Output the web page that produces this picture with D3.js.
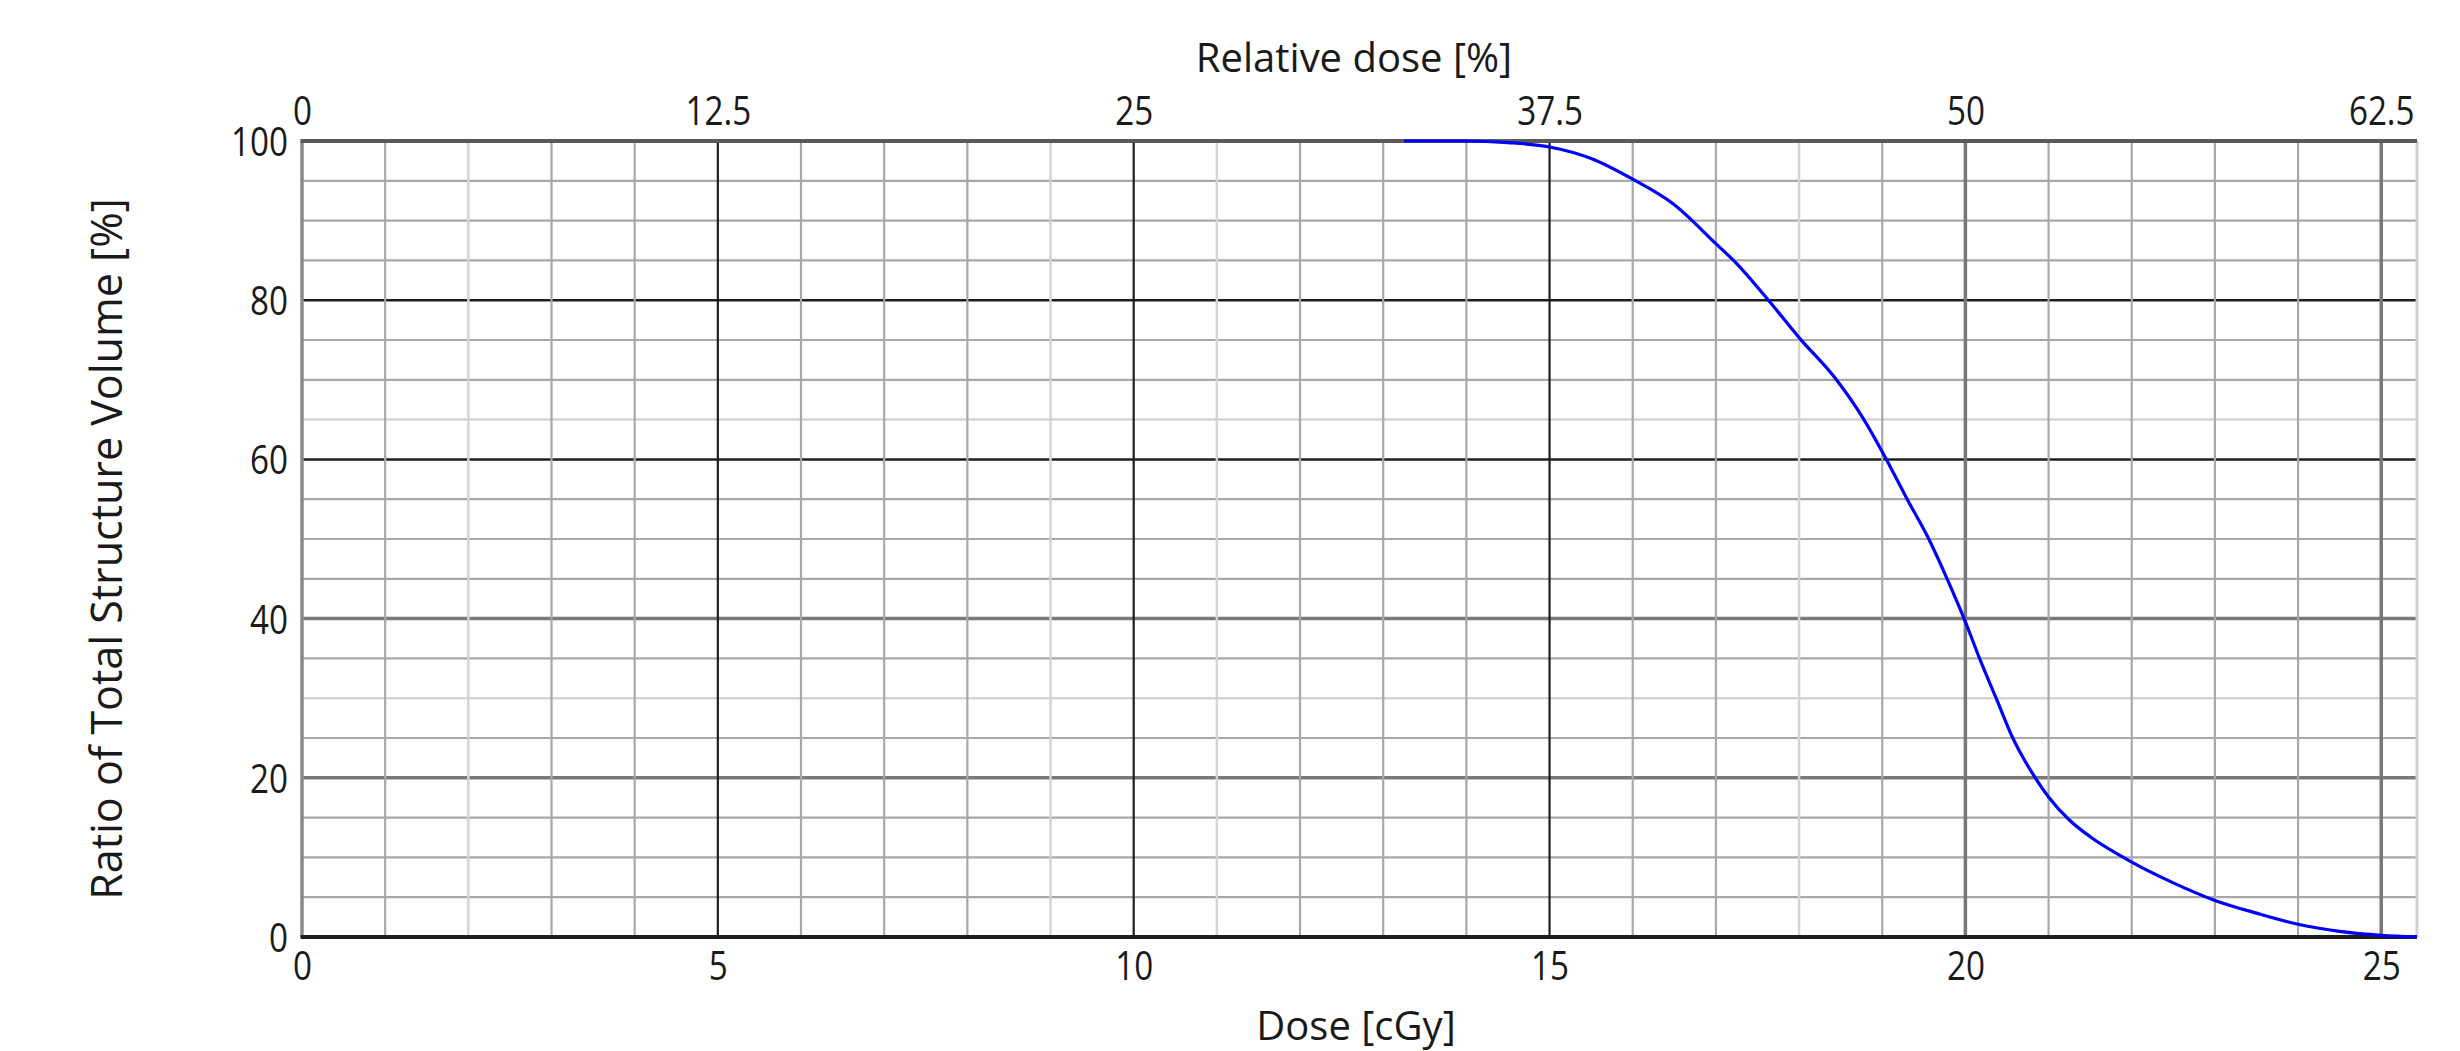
<!DOCTYPE html>
<html>
<head>
<meta charset="utf-8">
<script src="https://cdn.jsdelivr.net/npm/d3@7"></script>
<style>
  html, body { margin: 0; padding: 0; background: #fff; }
  svg text { font-family: "Open Sans", "Noto Sans", sans-serif; fill: #1a1a1a; }
</style>
</head>
<body>
<svg id="chart" width="2460" height="1051"></svg>
<script>
// ---- data ----
const doseValues = [13.25, 14.0, 14.5, 15.0, 15.5, 16.0, 16.5, 17.0, 17.25, 17.6, 18.0, 18.45, 18.78, 19.05, 19.3, 19.56, 19.78, 20.0, 20.17, 20.37, 20.57, 20.84, 21.0, 21.25, 21.5, 21.9, 22.0, 22.5, 23.0, 23.5, 24.0, 24.5, 25.0, 25.43];
const volumeValues = [100, 100, 99.8, 99.25, 97.8, 95.2, 92.0, 87.1, 84.6, 80.4, 75.3, 70.0, 65.0, 60.0, 55.0, 50.0, 45.0, 39.6, 35.0, 30.0, 25.0, 20.0, 17.6, 14.7, 12.6, 10.0, 9.4, 6.8, 4.6, 3.0, 1.6, 0.7, 0.2, 0.0];
const doseTicks = [0, 5, 10, 15, 20, 25];
const doseTickLabels = ["0", "5", "10", "15", "20", "25"];
const relTicks = [0, 12.5, 25, 37.5, 50, 62.5];
const relTickLabels = ["0", "12.5", "25", "37.5", "50", "62.5"];
const volTicks = [0, 20, 40, 60, 80, 100];
const volTickLabels = ["0", "20", "40", "60", "80", "100"];
const doseMax = 25.43;
const relPerDose = 2.5;

// ---- layout ----
const svg = d3.select("#chart");
const L = 302, R = 2417, T = 141, B = 937;
const x = d3.scaleLinear().domain([0, doseMax]).range([L, R]);
const xr = d3.scaleLinear().domain([0, doseMax * relPerDose]).range([L, R]);
const y = d3.scaleLinear().domain([0, 100]).range([B, T]);

const g = svg.append("g");

// grid styles (mimic the rendered look of the reference)
function vStyle(d) {
  if (d === 0) return ["#8a8a8a", 3.5];
  if (d === 20 || d === 25) return ["#777", 3.5];
  if (d % 5 === 0) return ["#1e1e1e", 2.2];
  if ([2, 9, 11, 18].includes(d)) return ["#d4d4d4", 2.5];
  return ["#a8a8a8", 2.2];
}
function hStyle(v) {
  if (v === 0) return ["#1e1e1e", 4];
  if (v === 100) return ["#5a5a5a", 4];
  if (v === 20 || v === 40) return ["#7a7a7a", 3.5];
  if (v % 20 === 0) return ["#1e1e1e", 2.5];
  if (v === 65 || v === 30) return ["#d4d4d4", 2.5];
  return ["#a8a8a8", 2.2];
}

const vLines = d3.range(0, Math.floor(doseMax) + 1);
const hLines = d3.range(5, 100, 5);

g.selectAll(".hgrid").data(hLines).enter().append("line")
  .attr("x1", L).attr("x2", R)
  .attr("y1", d => y(d)).attr("y2", d => y(d))
  .attr("stroke", d => hStyle(d)[0]).attr("stroke-width", d => hStyle(d)[1]);

g.selectAll(".vgrid").data(vLines).enter().append("line")
  .attr("y1", T).attr("y2", B)
  .attr("x1", d => x(d)).attr("x2", d => x(d))
  .attr("stroke", d => vStyle(d)[0]).attr("stroke-width", d => vStyle(d)[1]);

g.append("line").attr("x1", x(doseMax)).attr("x2", x(doseMax)).attr("y1", T).attr("y2", B)
  .attr("stroke", "#d0d0d0").attr("stroke-width", 3);
[100, 0].forEach(v => {
  g.append("line").attr("x1", L - 1.5).attr("x2", R).attr("y1", y(v)).attr("y2", y(v))
    .attr("stroke", hStyle(v)[0]).attr("stroke-width", hStyle(v)[1]);
});

// curve
const pts = doseValues.map((d, i) => [d, volumeValues[i]]);
g.append("path").datum(pts)
  .attr("fill", "none").attr("stroke", "#0000ff").attr("stroke-width", 3.2)
  .attr("d", d3.line().x(d => x(d[0])).y(d => y(d[1])).curve(d3.curveMonotoneX));

// axes (labels only) – narrow digits like the reference
const fs = 40, squeeze = 0.83;
function styleTicks(sel) {
  sel.select(".domain").remove();
  sel.selectAll("text")
    .attr("font-size", fs).attr("fill", "#1a1a1a").attr("font-family", "Open Sans")
    .each(function () {
      const w = this.getComputedTextLength();
      d3.select(this).attr("textLength", w * squeeze).attr("lengthAdjust", "spacingAndGlyphs");
    });
}

const ab = svg.append("g").attr("transform", `translate(0,${B})`)
  .call(d3.axisBottom(x).tickValues(doseTicks).tickSize(0).tickFormat((d, i) => doseTickLabels[i]));
styleTicks(ab);
ab.selectAll("text").attr("y", 43).attr("dy", null);

const at = svg.append("g").attr("transform", `translate(0,${T})`)
  .call(d3.axisTop(xr).tickValues(relTicks).tickSize(0).tickFormat((d, i) => relTickLabels[i]));
styleTicks(at);
at.selectAll("text").attr("y", -16).attr("dy", null);

const al = svg.append("g").attr("transform", `translate(${L},0)`)
  .call(d3.axisLeft(y).tickValues(volTicks).tickSize(0).tickFormat((d, i) => volTickLabels[i]));
styleTicks(al);
al.selectAll("text").attr("x", -14).attr("dy", "0.36em");

// titles
svg.append("text").attr("x", 1354).attr("y", 72).attr("text-anchor", "middle")
  .attr("font-size", 40).text("Relative dose [%]");
svg.append("text").attr("x", 1356).attr("y", 1040).attr("text-anchor", "middle")
  .attr("font-size", 40).text("Dose [cGy]");
svg.append("text").attr("transform", "translate(122,549) rotate(-90)").attr("text-anchor", "middle")
  .attr("font-size", 43).text("Ratio of Total Structure Volume [%]");
</script>
</body>
</html>
